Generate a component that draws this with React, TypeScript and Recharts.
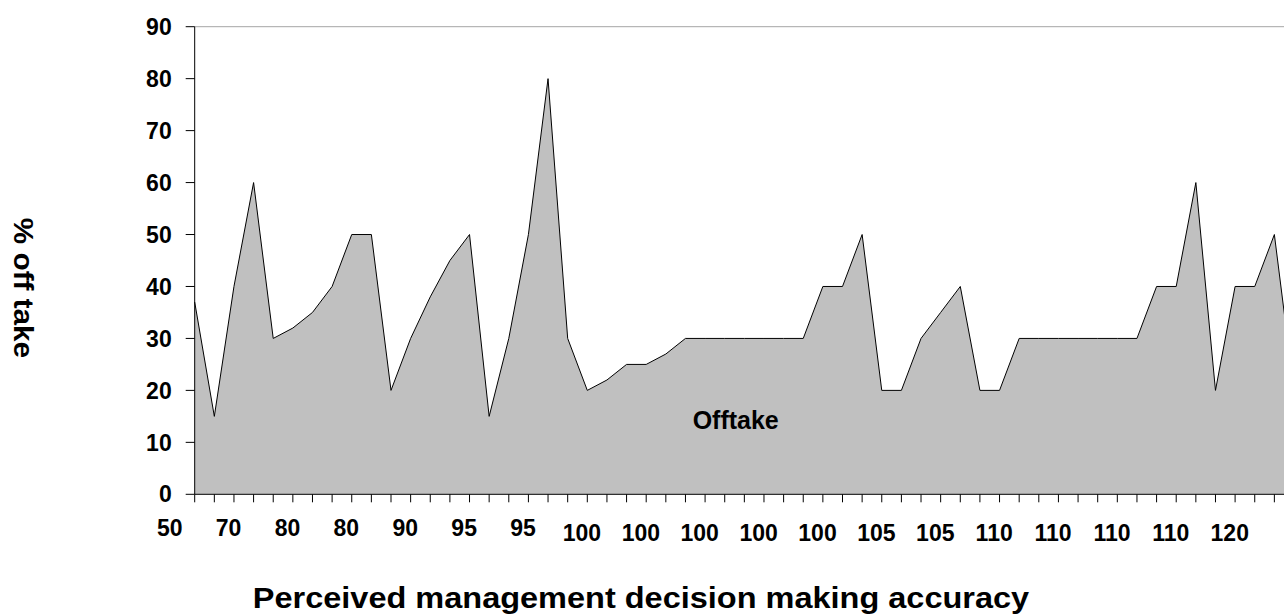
import React from "react";
import { AreaChart, Area, XAxis, YAxis, ReferenceLine, ReferenceDot } from "recharts";

// % off take per respondent, in the order the chart shows them
const offtake = [
  37, 15, 40, 60, 30, 32, 35, 40, 50, 50, 20, 30, 38, 45, 50, 15, 30, 50, 80, 30,
  20, 22, 25, 25, 27, 30, 30, 30, 30, 30, 30, 30, 40, 40, 50, 20, 20, 30, 35, 40,
  20, 20, 30, 30, 30, 30, 30, 30, 30, 40, 40, 60, 20, 40, 40, 50, 20,
];

// only every third category gets a label on the axis
const tickLabels = [
  "50", "70", "80", "80", "90", "95", "95", "100", "100", "100",
  "100", "100", "105", "105", "110", "110", "110", "110", "120",
];

const yTicks = [0, 10, 20, 30, 40, 50, 60, 70, 80, 90];

const data = offtake.map((v, i) => ({ idx: i, offtake: v }));
const xTicks = offtake.map((_, i) => i);

const FONT = "'Liberation Sans', Arial, sans-serif";

const XTick = (props: any) => {
  const { x, y, payload } = props;
  const i = payload.value as number;
  if (i % 3 !== 0) return null;
  const label = tickLabels[i / 3];
  if (!label) return null;
  const drop = label.length > 2 ? 5 : 0;
  return (
    <text
      x={x - 25}
      y={y + 32 + drop}
      textAnchor="middle"
      fontFamily={FONT}
      fontWeight="bold"
      fontSize={23}
      fill="#000"
    >
      {label}
    </text>
  );
};

export default function App() {
  return (
    <div
      style={{
        position: "relative",
        width: 1276,
        height: 607,
        overflow: "hidden",
      }}
    >
      {/* chart runs off the right edge like the original, so drop the right/bottom body margin */}
      <style>{"body{margin:8px 0 0 8px}"}</style>
      <AreaChart
        width={1300}
        height={600}
        data={data}
        margin={{ top: 18.7, right: 14, left: 126.7, bottom: 73.7 }}
      >
        <XAxis
          dataKey="idx"
          type="number"
          domain={[0, 56]}
          ticks={xTicks}
          interval={0}
          tick={<XTick />}
          tickSize={8}
          tickMargin={2}
          axisLine={{ stroke: "#000" }}
          tickLine={{ stroke: "#000" }}
          height={40}
        />
        <YAxis
          type="number"
          domain={[0, 90]}
          ticks={yTicks}
          interval={0}
          width={60}
          tickSize={9}
          tickMargin={14}
          axisLine={{ stroke: "#000" }}
          tickLine={{ stroke: "#000" }}
          tick={{ fill: "#000", fontFamily: FONT, fontWeight: "bold", fontSize: 23 }}
        />
        <ReferenceLine y={90} stroke="#a6a6a6" strokeWidth={1} />
        <Area
          type="linear"
          dataKey="offtake"
          stroke="#000"
          strokeWidth={1}
          fill="#c0c0c0"
          fillOpacity={1}
          dot={false}
          activeDot={false}
          isAnimationActive={false}
        />
        <ReferenceDot
          x={27.56}
          y={14.3}
          r={0}
          fill="none"
          stroke="none"
          label={{
            value: "Offtake",
            position: "center",
            fill: "#000",
            fontFamily: FONT,
            fontWeight: "bold",
            fontSize: 25,
          }}
        />
      </AreaChart>
      <div
        style={{
          position: "absolute",
          left: 233,
          top: 576,
          width: 800,
          textAlign: "center",
          fontFamily: FONT,
          fontWeight: "bold",
          fontSize: 29,
          lineHeight: "29px",
          whiteSpace: "nowrap",
          transform: "scaleX(1.12)",
        }}
      >
        Perceived management decision making accuracy
      </div>
      <div
        style={{
          position: "absolute",
          left: -85,
          top: 265,
          width: 200,
          height: 30,
          lineHeight: "30px",
          textAlign: "center",
          transform: "rotate(90deg) scaleX(1.1)",
          fontFamily: FONT,
          fontWeight: "bold",
          fontSize: 27,
          whiteSpace: "nowrap",
        }}
      >
        % off take
      </div>
    </div>
  );
}
